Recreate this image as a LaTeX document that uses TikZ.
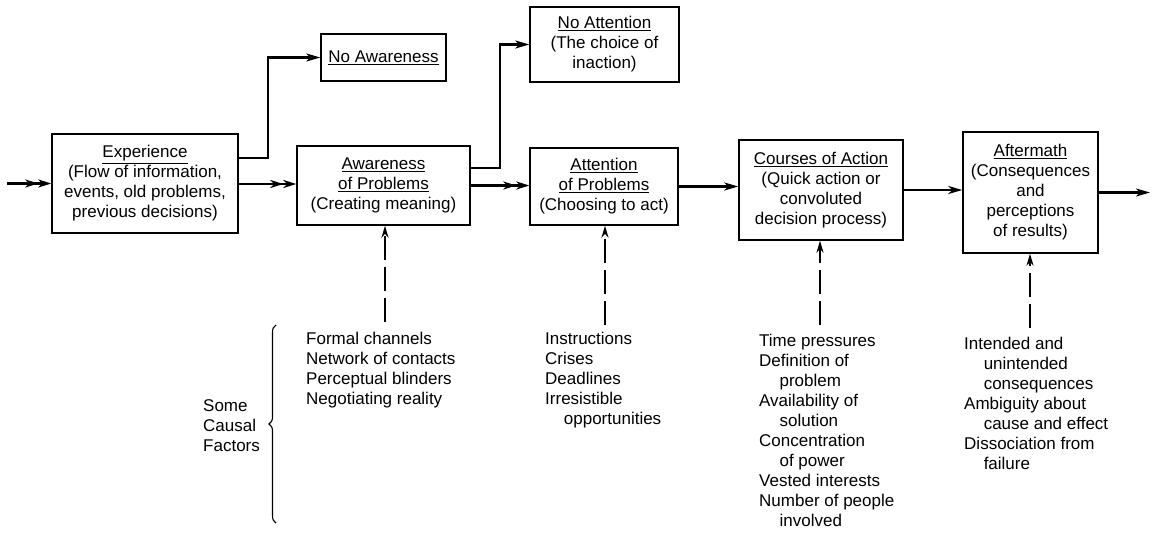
\documentclass[tikz,border=0pt]{standalone}
\usepackage{fontspec}
\setmainfont{Liberation Sans}
\usetikzlibrary{arrows.meta,decorations.pathreplacing}
\tikzset{
  txt/.style={font=\fontsize{17}{20}\selectfont},
  box/.style={txt, draw, line width=1.4pt, align=center, inner sep=0pt},
  factors/.style={txt, align=left, inner sep=0pt, anchor=north west},
  head/.style={},
  flow/.style={line width=2.1pt, -{Stealth[length=14pt,width=8pt,inset=4pt]}},
  dflow/.style={line width=2.1pt, -{Stealth[length=13pt,width=8pt,inset=4pt]Stealth[length=13pt,width=8pt,inset=4pt]}},
  dsh/.style={line width=1.8pt, dash pattern=on 24pt off 7pt, -{Stealth[length=12pt,width=7pt]}},
}
\begin{document}
\begin{tikzpicture}[x=1pt,y=-1pt]
\useasboundingbox (0,0) rectangle (1153,533);
% boxes
\node[box, minimum width=186pt, minimum height=99pt] (exp) at (145,183.5)
  {\underline{Experience}\\(Flow of information,\\events, old problems,\\previous decisions)};
\node[box, minimum width=125pt, minimum height=47pt] (noaw) at (383.5,57.5)
  {\underline{No Awareness}};
\node[box, minimum width=173pt, minimum height=79pt] (aw) at (383.5,185.5)
  {\underline{Awareness}\\\underline{of Problems}\\(Creating meaning)};
\node[box, minimum width=149pt, minimum height=75pt] (noatt) at (604.5,44.5)
  {\underline{No Attention}\\(The choice of\\inaction)};
\node[box, minimum width=148pt, minimum height=77pt] (att) at (604,186.5)
  {\underline{Attention}\\\underline{of Problems}\\(Choosing to act)};
\node[box, minimum width=164pt, minimum height=100pt] (crs) at (821,190)
  {\underline{Courses of Action}\\(Quick action or\\convoluted\\decision process)};
\node[box, minimum width=135pt, minimum height=121pt] (aft) at (1030.5,192.5)
  {\underline{Aftermath}\\(Consequences\\and\\perceptions\\of results)};
% factor lists
\node[factors] (f1) at (306,332)
  {Formal channels\\Network of contacts\\Perceptual blinders\\Negotiating reality};
\node[factors] (f2) at (545,332)
  {Instructions\\Crises\\Deadlines\\Irresistible\\\hspace*{1.1em}opportunities};
\node[factors] (f3) at (759,334)
  {Time pressures\\Definition of\\\hspace*{1.2em}problem\\Availability of\\\hspace*{1.2em}solution\\Concentration\\\hspace*{1.2em}of power\\Vested interests\\Number of people\\\hspace*{1.2em}involved};
\node[factors] (f4) at (964,337)
  {Intended and\\\hspace*{1.15em}unintended\\\hspace*{1.15em}consequences\\Ambiguity about\\\hspace*{1.15em}cause and effect\\Dissociation from\\\hspace*{1.15em}failure};
\node[factors] (sc) at (203,399) {Some\\Causal\\Factors};
% brace
\coordinate (b1) at (276,523);
\coordinate (b2) at (276,325);
\draw[line width=1.1pt, decorate, decoration={brace, amplitude=7pt}] (b1) -- (b2);
% main flow
\coordinate (in) at (7,183.5);
\draw[dflow] (in) -- (in -| exp.west);
\draw[dflow] ([yshift=-0.5pt]exp.east) -- ([yshift=-0.5pt]exp.east -| aw.west);
\draw[dflow] (aw.east) -- (aw.east -| att.west);
\draw[flow] (att.east) -- (att.east -| crs.west);
\draw[flow] (crs.east) -- (crs.east -| aft.west);
\coordinate (out) at (1150,192.5);
\draw[flow] (aft.east) -- (out);
% branches
\draw[flow] ([yshift=25.5pt]exp.east) -| (268,100) |- (noaw.west);
\draw[flow] ([yshift=17.5pt]aw.east) -| (500,100) |- (noatt.west);
% dashed influences
\coordinate (d1) at (385,322);
\coordinate (d2) at (605,325);
\coordinate (d3) at (820,325);
\coordinate (d4) at (1030,328);
\draw[dsh] (d1) -- (d1 |- aw.south);
\draw[dsh] (d2) -- (d2 |- att.south);
\draw[dsh] (d3) -- (d3 |- crs.south);
\draw[dsh] (d4) -- (d4 |- aft.south);
\end{tikzpicture}
\end{document}
